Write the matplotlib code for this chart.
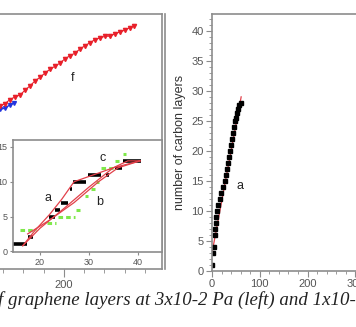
import numpy as np
import matplotlib
matplotlib.use("Agg")
import matplotlib.pyplot as plt
from matplotlib.lines import Line2D

# ---- data ----
# main left panel (curve f, red, and a short blue run)
f_x = [121, 127, 133, 140, 146, 152, 158, 164, 171, 177, 183, 189, 195, 201,
       207, 214, 220, 226, 232, 238, 244, 251, 257, 263, 269, 275, 281, 287]
f_y = [27.2, 27.5, 28.2, 28.7, 29.0, 29.8, 30.5, 31.3, 32.0, 32.7, 33.3, 33.8,
       34.3, 35.0, 35.5, 36.0, 36.7, 37.2, 37.7, 38.2, 38.5, 38.8, 38.8, 39.2,
       39.5, 39.8, 40.2, 40.5]
blue_x = [121, 127, 133, 139]
blue_y = [26.6, 26.8, 27.3, 27.7]

# inset: step runs (start, end, level)
blk_x0 = [14.2, 17.6, 21.9, 23.1, 24.3, 26.1, 26.8, 29.9, 33.6, 35.3, 37.0]
blk_x1 = [17.3, 18.6, 23.1, 24.1, 25.8, 26.5, 29.5, 32.6, 34.2, 36.9, 40.7]
blk_y = [1, 2, 5, 6, 7, 9, 10, 11, 11, 12, 13]
grn_x0 = [15.9, 21.4, 23.7, 27.3, 29.2, 30.5, 31.4, 32.6, 35.3, 37.0]
grn_x1 = [19.3, 23.4, 27.1, 28.2, 29.9, 31.2, 32.2, 35.0, 36.3, 37.6]
grn_y = [3, 4, 5, 6, 8, 9, 10, 12, 13, 14]
fit_a_x = [16.5, 19, 22, 24.5, 27, 31, 35, 40.5]
fit_a_y = [0.8, 3, 5.3, 7.5, 10, 11, 12, 13]
fit_b_x = [16.5, 20, 25, 30, 35, 38, 40.5]
fit_b_y = [0.8, 3.3, 6.2, 9.2, 12, 13, 13]
fit_c_x = [17.5, 22, 27, 32, 36, 40.5]
fit_c_y = [2.5, 4.5, 7, 10, 12, 13]

# right panel
r_x = [1, 3, 5, 6, 7, 8, 9, 11, 13, 16, 19, 23, 27, 30, 32, 34, 36, 38, 40,
       42, 44, 46, 48, 50, 52, 54, 57, 60]
r_y = [1, 3, 4, 6, 7, 8, 9, 10, 11, 12, 13, 14, 15, 16, 17, 18, 19, 20, 21,
       22, 23, 24, 25, 25.5, 26.3, 27, 27.6, 28]
r_fit_x = [0, 61]
r_fit_y = [3, 29]

W, H = 356, 327
gray = "#8c8c8c"
tcol = "#555555"
red = "#e8202a"

plt.rcParams['font.family'] = ['Liberation Sans', 'DejaVu Sans']
fig = plt.figure(figsize=(W / 100, H / 100), dpi=100)


def box(x0, y0, x1, y1):
    return [x0 / W, 1 - y1 / H, (x1 - x0) / W, (y1 - y0) / H]


def style(ax):
    for s in ax.spines.values():
        s.set_color(gray)
        s.set_linewidth(1.2)
    ax.tick_params(colors=gray, labelcolor=tcol, width=0.8)


# main left
ax1 = fig.add_axes(box(0, 14, 162, 269))
style(ax1)
ax1.spines['left'].set_visible(False)
ax1.plot(blue_x, blue_y, color="#2233dd", marker='v', ms=2.8, lw=1)
ax1.plot(f_x, f_y, color=red, marker='v', ms=3, lw=0.8)
ax1.text(211, 31.8, "f", fontsize=9, color="#222222", ha='center', va='center')
ax1.set_xlim(121.2, 321)
ax1.set_ylim(0, 42.5)
ax1.set_xticks([200])
ax1.set_xticks(np.arange(125, 321, 25), minor=True)
ax1.set_yticks([])
ax1.tick_params(axis='x', which='major', length=6, labelsize=8, pad=2)
ax1.tick_params(axis='x', which='minor', length=3, color=gray)
fig.add_artist(Line2D([165 / W, 165 / W], [1 - 14 / H, 1 - 269 / H],
                      color=gray, lw=1.2))

# inset
ax2 = fig.add_axes(box(13, 140, 162, 252))
style(ax2)
ax2.hlines(grn_y, grn_x0, grn_x1, color="#7fe84a", lw=2.2, linestyle=(0, (1.5, 1)))
ax2.hlines(blk_y, blk_x0, blk_x1, color="black", lw=2.6)
ax2.plot(fit_a_x, fit_a_y, color="#e2404a", lw=0.9)
ax2.plot(fit_b_x, fit_b_y, color="#e2404a", lw=0.9)
ax2.plot(fit_c_x, fit_c_y, color="#e2404a", lw=0.9)
ax2.text(21.7, 7.7, "a", fontsize=9, color="#222222", ha='center', va='center')
ax2.text(32.2, 7.1, "b", fontsize=9, color="#222222", ha='center', va='center')
ax2.text(32.9, 13.4, "c", fontsize=9, color="#222222", ha='center', va='center')
ax2.set_xlim(14.5, 45)
ax2.set_ylim(-0.1, 16)
ax2.set_xticks([20, 30, 40])
ax2.set_yticks([0, 5, 10, 15])
ax2.tick_params(length=2.5, labelsize=6.5, pad=1.5)

# right panel
ax3 = fig.add_axes(box(212, 14, 362, 271))
style(ax3)
ax3.spines['right'].set_visible(False)
ax3.plot(r_fit_x, r_fit_y, color="#e2404a", lw=0.9)
ax3.plot(r_x, r_y, 's', color="black", ms=2.3)
ax3.text(59, 14.2, "a", fontsize=9, color="#222222", ha='center', va='center')
ax3.set_xlim(0, 313.8)
ax3.set_ylim(0, 42.8)
ax3.set_xticks([0, 100, 200, 300])
ax3.set_xticks(np.arange(0, 314, 20), minor=True)
ax3.set_yticks(np.arange(0, 41, 5))
ax3.set_yticks(np.arange(0, 43, 1), minor=True)
ax3.tick_params(which='major', length=4, labelsize=8, pad=2)
ax3.tick_params(which='minor', length=2, color=gray)
ax3.set_ylabel("number of carbon layers", fontsize=9, color="#333333", labelpad=4)

fig.text(-2 / W, 1 - 300 / H, "f graphene layers at 3x10-2 Pa (left) and 1x10-",
         family=['Liberation Serif', 'DejaVu Serif'], style='italic',
         fontsize=13.6, color="#222222", ha='left', va='center')

fig.savefig("out.png", dpi=100)
